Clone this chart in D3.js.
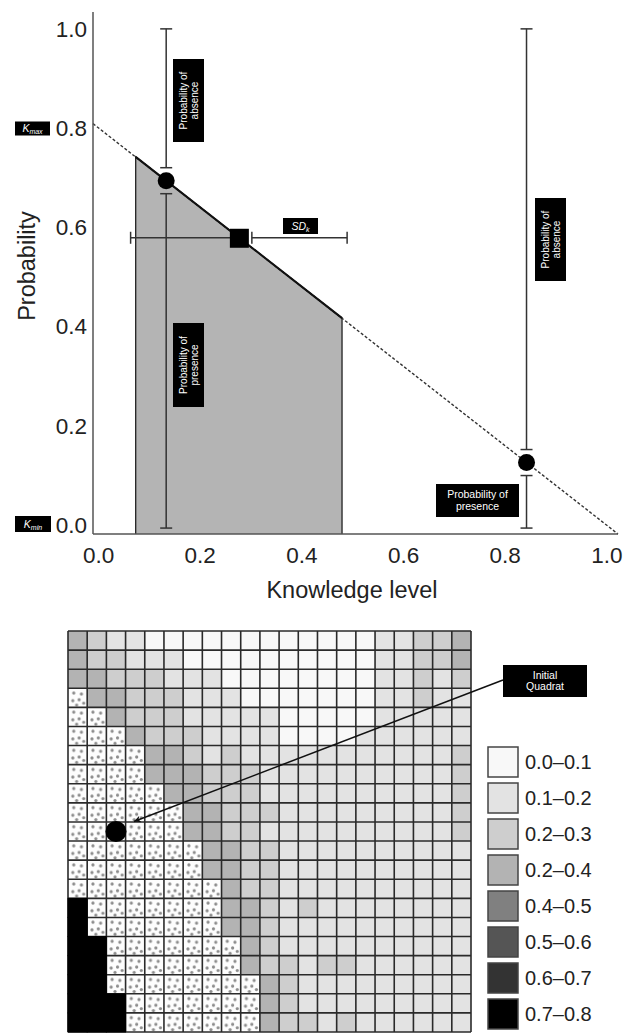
<!DOCTYPE html>
<html>
<head>
<meta charset="utf-8">
<script src="https://cdn.jsdelivr.net/npm/d3@7"></script>
<style>
  body { margin: 0; background: #fff; }
  svg { display: block; font-family: "Liberation Sans", Arial, sans-serif; }
</style>
</head>
<body>
<svg id="chart" width="631" height="1034"></svg>
<script>
// ---- top panel data ----
const xTicks = [0, 0.2, 0.4, 0.6, 0.8, 1.0];
const yTicks = [0, 0.2, 0.4, 0.6, 0.8, 1.0];
const lineEnds = [{ k: -0.011, p: 0.809 }, { k: 1.022, p: -0.018 }];
const shadeEnds = [{ k: 0.073, p: 0.742 }, { k: 0.479, p: 0.417 }];
const quadratPoints = [{ k: 0.133, p: 0.694 }, { k: 0.842, p: 0.126 }];
const meanPoint = { k: 0.276, p: 0.579 };
const sdRange = [0.063, 0.489];

// ---- bottom panel data (21 x 21 quadrats) ----
// 0-7 = probability class index, d = searched quadrat (dotted)
const gridRows = [
  "321100000000000011223",
  "322111000000000011223",
  "332221110000000011212",
  "d33222111000000011211",
  "dd3222111110000011111",
  "ddd322211110000111111",
  "dddd33212111111111112",
  "dddd33322211111111112",
  "ddddd3322211111111112",
  "dddddd332221111111112",
  "dddddd332211111111112",
  "ddddddd33221111111111",
  "ddddddd33221111111111",
  "dddddddd3221111111111",
  "7ddddddd3321211111111",
  "7ddddddd3321111111111",
  "77ddddddd321111111111",
  "77ddddddd322122111111",
  "77dddddddd32111111111",
  "777ddddddd32111111111",
  "777ddddddd32212111111"
];
const initialQuadrat = { col: 2, row: 10 };
const classLabels = ["0.0\u20130.1", "0.1\u20130.2", "0.2\u20130.3", "0.2\u20130.4",
                     "0.4\u20130.5", "0.5\u20130.6", "0.6\u20130.7", "0.7\u20130.8"];
const classColors = ["#f8f8f8", "#e3e3e3", "#cecece", "#b3b3b3",
                     "#808080", "#555555", "#333333", "#000000"];

const svg = d3.select("#chart");

// ================= top chart =================
const x = d3.scaleLinear().domain([-0.011, 1.022]).range([93, 618]);
const y = d3.scaleLinear().domain([-0.018, 1.034]).range([534, 12]);

// shaded area under the line
svg.append("path")
  .attr("d", d3.line()([
    [x(shadeEnds[0].k), y(-0.018)],
    [x(shadeEnds[0].k), y(shadeEnds[0].p)],
    [x(shadeEnds[1].k), y(shadeEnds[1].p)],
    [x(shadeEnds[1].k), y(-0.018)]
  ]))
  .attr("fill", "#b4b4b4")
  .attr("stroke", "#222")
  .attr("stroke-width", 1.3);

// dashed line Kmax -> 1
svg.append("line")
  .attr("x1", x(lineEnds[0].k)).attr("y1", y(lineEnds[0].p))
  .attr("x2", x(lineEnds[1].k)).attr("y2", y(lineEnds[1].p))
  .attr("stroke", "#333").attr("stroke-width", 1.4)
  .attr("stroke-dasharray", "3,2");
// solid part over the shaded region
svg.append("line")
  .attr("x1", x(shadeEnds[0].k)).attr("y1", y(shadeEnds[0].p))
  .attr("x2", x(shadeEnds[1].k)).attr("y2", y(shadeEnds[1].p))
  .attr("stroke", "#111").attr("stroke-width", 2);

// axes (lines + labels only, no tick marks)
svg.append("line").attr("x1", x(-0.011)).attr("x2", x(-0.011))
  .attr("y1", y(1.034)).attr("y2", y(-0.018))
  .attr("stroke", "#555").attr("stroke-width", 1.5);
svg.append("line").attr("x1", x(-0.011)).attr("x2", x(1.022))
  .attr("y1", y(-0.018)).attr("y2", y(-0.018))
  .attr("stroke", "#555").attr("stroke-width", 1.5);

svg.selectAll(".ytick").data(yTicks).enter().append("text")
  .attr("class", "ytick")
  .attr("x", 87).attr("y", d => y(d))
  .attr("dy", "0.35em")
  .attr("text-anchor", "end")
  .attr("font-size", 22.5).attr("fill", "#222")
  .text(d => d.toFixed(1));
svg.selectAll(".xtick").data(xTicks).enter().append("text")
  .attr("class", "xtick")
  .attr("x", d => x(d)).attr("y", 555)
  .attr("dy", "0.35em")
  .attr("text-anchor", "middle")
  .attr("font-size", 22.5).attr("fill", "#222")
  .text(d => d.toFixed(1));

svg.append("text")
  .attr("transform", "translate(27,266) rotate(-90)")
  .attr("text-anchor", "middle").attr("dy", "0.35em")
  .attr("font-size", 23.5).attr("fill", "#222")
  .text("Probability");
svg.append("text")
  .attr("x", 352).attr("y", 598)
  .attr("text-anchor", "middle")
  .attr("font-size", 23.5).attr("fill", "#222")
  .text("Knowledge level");

// vertical error bars with a gap around each point
const cap = 6, gap = 13;
quadratPoints.forEach(d => {
  const cx = x(d.k), cy = y(d.p);
  const segs = [[y(1), cy - gap], [cy + gap, y(0) + 3]];
  segs.forEach(s => {
    svg.append("line").attr("x1", cx).attr("x2", cx).attr("y1", s[0]).attr("y2", s[1])
      .attr("stroke", "#333").attr("stroke-width", 1.5);
    s.forEach(yy => svg.append("line")
      .attr("x1", cx - cap).attr("x2", cx + cap).attr("y1", yy).attr("y2", yy)
      .attr("stroke", "#333").attr("stroke-width", 1.5));
  });
  svg.append("circle").attr("cx", cx).attr("cy", cy).attr("r", 8.5).attr("fill", "#000");
});

// SD_k horizontal error bar around the mean square
{
  const cx = x(meanPoint.k), cy = y(meanPoint.p);
  const segs = [[x(sdRange[0]), cx - 8], [cx + 13, x(sdRange[1])]];
  segs.forEach(s => {
    svg.append("line").attr("x1", s[0]).attr("x2", s[1]).attr("y1", cy).attr("y2", cy)
      .attr("stroke", "#333").attr("stroke-width", 1.5);
    s.forEach(xx => svg.append("line")
      .attr("x1", xx).attr("x2", xx).attr("y1", cy - cap).attr("y2", cy + cap)
      .attr("stroke", "#333").attr("stroke-width", 1.5));
  });
  svg.append("rect").attr("x", cx - 9).attr("y", cy - 9)
    .attr("width", 19).attr("height", 19).attr("fill", "#000");
}

// black label boxes
function labelBox(cx, cy, w, h, lines, rotate, size) {
  const g = svg.append("g").attr("transform", `translate(${cx},${cy})` + (rotate ? " rotate(-90)" : ""));
  const bw = rotate ? h : w, bh = rotate ? w : h;
  g.append("rect").attr("x", -bw / 2).attr("y", -bh / 2).attr("width", bw).attr("height", bh)
    .attr("fill", "#000");
  const lh = size * 1.1;
  lines.forEach((t, i) => {
    g.append("text").attr("x", 0).attr("y", (i - (lines.length - 1) / 2) * lh)
      .attr("dy", "0.35em").attr("text-anchor", "middle")
      .attr("font-size", size).attr("fill", "#fff").text(t);
  });
  return g;
}
labelBox(188.5, 100.5, 31, 83, ["Probability of", "absence"], true, 10);
labelBox(188.5, 365, 31, 84, ["Probability of", "presence"], true, 10);
labelBox(550.5, 239.5, 31, 83, ["Probability of", "absence"], true, 10);
labelBox(477.5, 500.5, 83, 33, ["Probability of", "presence"], false, 10.5);

function subBox(cx, cy, w, h, main, sub) {
  svg.append("rect").attr("x", cx - w / 2).attr("y", cy - h / 2).attr("width", w).attr("height", h)
    .attr("fill", "#000");
  const t = svg.append("text").attr("x", cx).attr("y", cy).attr("dy", "0.35em")
    .attr("text-anchor", "middle").attr("fill", "#fff").attr("font-size", 10.5)
    .attr("font-style", "italic");
  t.append("tspan").text(main);
  t.append("tspan").attr("font-size", 7).attr("dy", 2).text(sub);
}
subBox(32.5, 128.5, 35, 14, "K", "max");
subBox(33, 524, 36, 16, "K", "min");
subBox(300.5, 226, 35, 16, "SD", "k");

// ================= bottom grid =================
const nCols = gridRows[0].length, nRows = gridRows.length;
const gx = d3.scaleBand().domain(d3.range(nCols)).range([68, 471]);
const gy = d3.scaleBand().domain(d3.range(nRows)).range([631, 1032]);
const cw = gx.bandwidth(), ch = gy.bandwidth();

const defs = svg.append("defs");
const pat = defs.append("pattern").attr("id", "dots")
  .attr("patternUnits", "userSpaceOnUse")
  .attr("x", 68).attr("y", 631).attr("width", cw).attr("height", ch);
pat.append("rect").attr("width", cw).attr("height", ch).attr("fill", "#fdfdfd");
[[0.3, 0.25], [0.7, 0.3], [0.25, 0.65], [0.58, 0.6], [0.82, 0.78], [0.45, 0.88]]
  .forEach(p => pat.append("circle").attr("cx", p[0] * cw).attr("cy", p[1] * ch)
    .attr("r", 1.6).attr("fill", "#8c8c8c"));

const cells = [];
gridRows.forEach((row, r) => row.split("").forEach((c, col) => cells.push({ r, col, c })));

svg.append("g").selectAll("rect").data(cells).enter().append("rect")
  .attr("x", d => gx(d.col)).attr("y", d => gy(d.r))
  .attr("width", cw).attr("height", ch)
  .attr("fill", d => d.c === "d" ? "url(#dots)" : classColors[+d.c]);

// grid lines
const gl = svg.append("g").attr("stroke", "#2a2a2a").attr("stroke-width", 1.6);
d3.range(nCols + 1).forEach(i => {
  const xx = 68 + i * cw;
  gl.append("line").attr("x1", xx).attr("x2", xx).attr("y1", 631).attr("y2", 1032);
});
d3.range(nRows + 1).forEach(i => {
  const yy = 631 + i * ch;
  gl.append("line").attr("x1", 68).attr("x2", 471).attr("y1", yy).attr("y2", yy);
});
// black cells drawn solid over the lines
svg.append("g").selectAll("rect").data(cells.filter(d => d.c === "7")).enter().append("rect")
  .attr("x", d => gx(d.col) - 0.5).attr("y", d => gy(d.r) - 0.5)
  .attr("width", cw + 1).attr("height", ch + 1)
  .attr("fill", "#000");

// initial quadrat marker and arrow
const qx = gx(initialQuadrat.col) + cw / 2, qy = gy(initialQuadrat.row) + ch / 2;
svg.append("circle").attr("cx", qx).attr("cy", qy).attr("r", 10.5).attr("fill", "#000");

defs.append("marker").attr("id", "arrow").attr("viewBox", "0 0 10 10")
  .attr("refX", 10).attr("refY", 5).attr("markerWidth", 11).attr("markerHeight", 7)
  .attr("markerUnits", "userSpaceOnUse").attr("orient", "auto")
  .append("path").attr("d", "M0,0 L10,5 L0,10 L3,5 z").attr("fill", "#111");

const boxL = 503, boxCy = 680;
svg.append("line").attr("x1", boxL).attr("y1", boxCy)
  .attr("x2", qx + 18).attr("y2", qy - 10)
  .attr("stroke", "#111").attr("stroke-width", 1.5)
  .attr("marker-end", "url(#arrow)");
labelBox(545, 681, 84, 32, ["Initial", "Quadrat"], false, 10.5);

// legend
const lg = svg.append("g");
classLabels.forEach((lab, i) => {
  const yy = 747 + i * 36;
  lg.append("rect").attr("x", 488).attr("y", yy).attr("width", 30).attr("height", 30)
    .attr("fill", classColors[i]).attr("stroke", "#444").attr("stroke-width", 1.5);
  lg.append("text").attr("x", 525).attr("y", yy + 15).attr("dy", "0.35em")
    .attr("font-size", 20).attr("fill", "#222").text(lab);
});
</script>
</body>
</html>
